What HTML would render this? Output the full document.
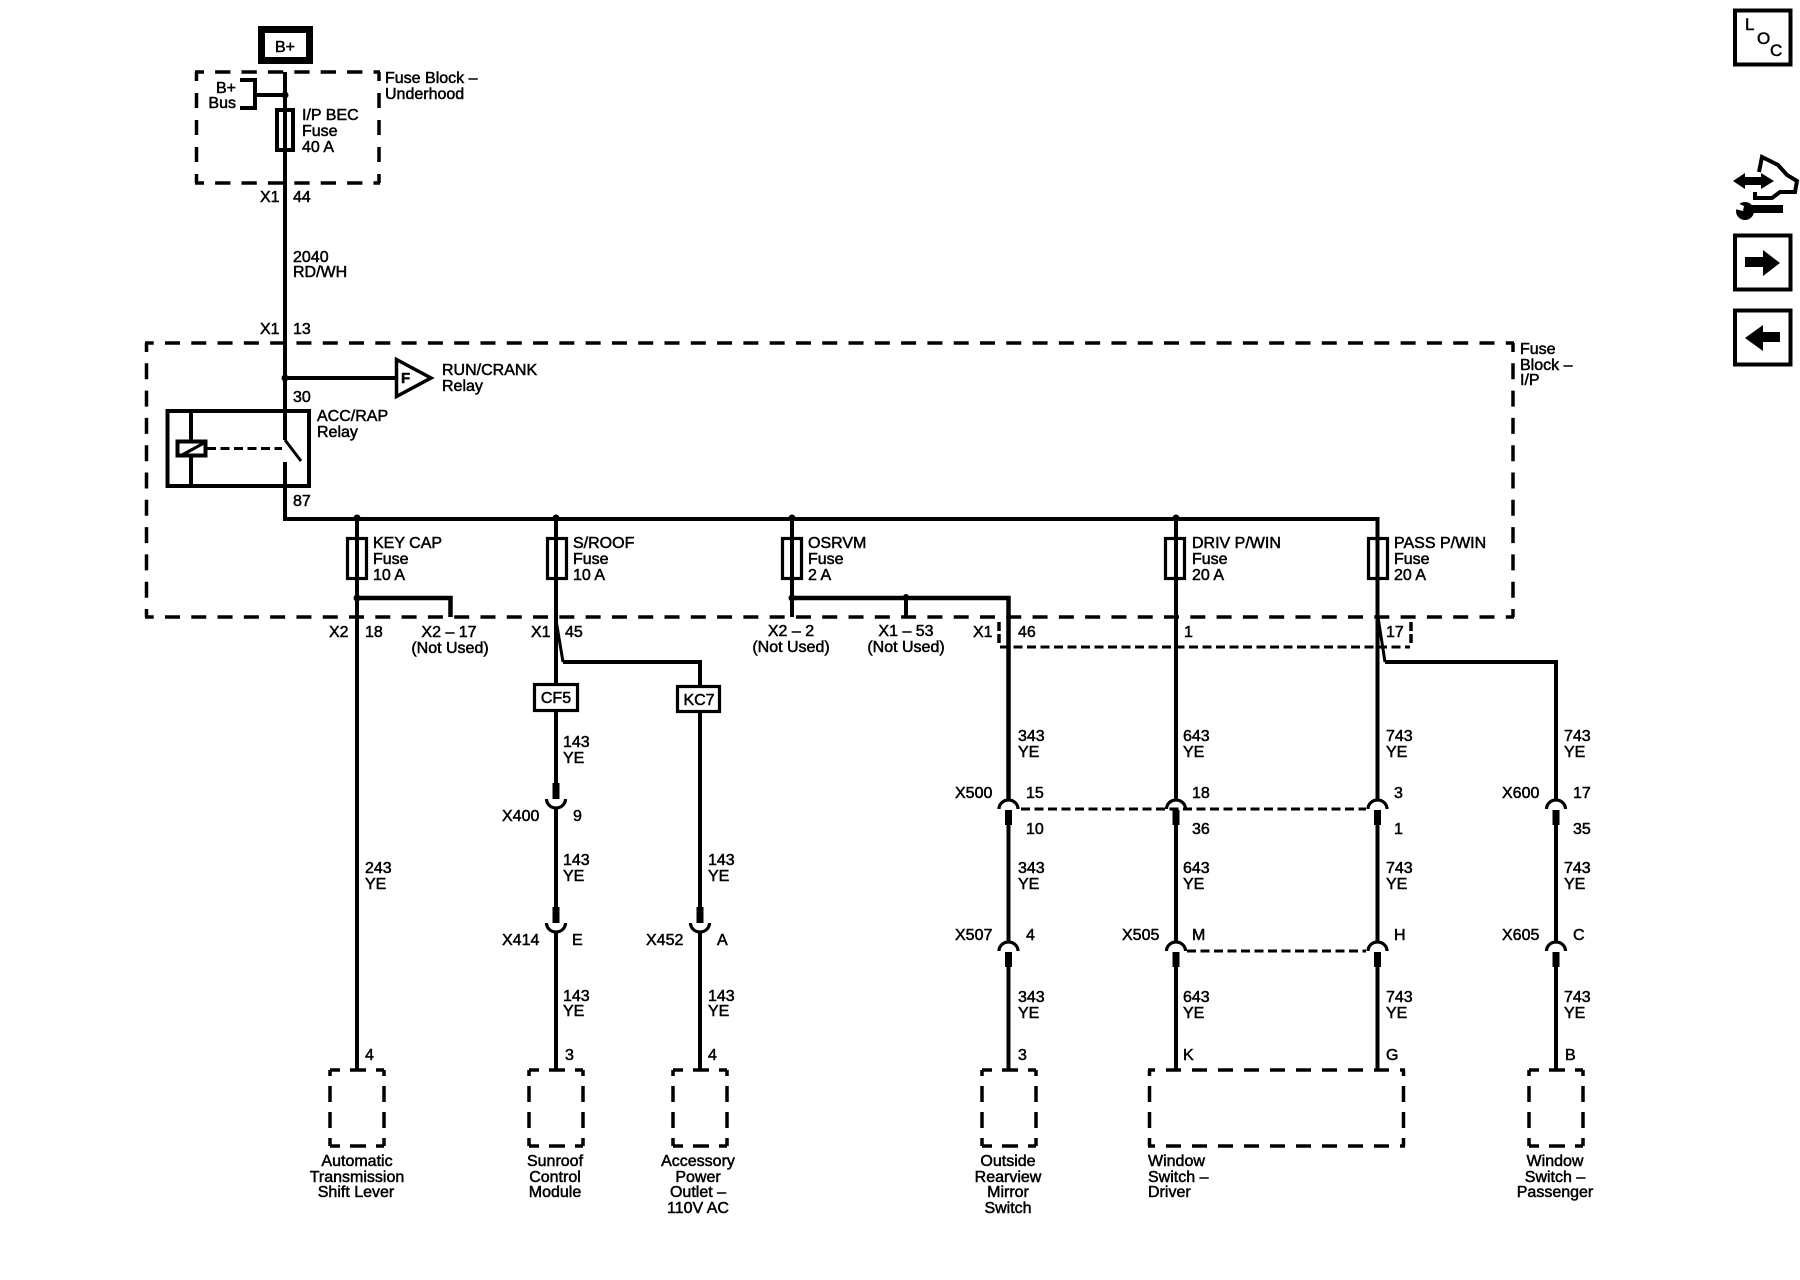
<!DOCTYPE html>
<html><head><meta charset="utf-8"><title>Wiring Schematic</title>
<style>
html,body{margin:0;padding:0;background:#fff}
svg{display:block}
text{font-family:"Liberation Sans",Arial,sans-serif;font-size:16px;fill:#000;stroke:#000;stroke-width:.5px}
.c{text-anchor:middle}
.r{text-anchor:end}
.w{fill:none;stroke:#000;stroke-width:4}
.t{fill:none;stroke:#000;stroke-width:3}
.k{fill:none;stroke:#000;stroke-width:3.5}
.s{fill:none;stroke:#000;stroke-width:3;stroke-dasharray:9 4.5}
</style></head><body>
<svg xmlns="http://www.w3.org/2000/svg" width="1800" height="1280" viewBox="0 0 1800 1280">
<defs>
<g id="up"><path d="M-9.5 10A9.5 9 0 0 1 9.5 10" fill="none" stroke="#000" stroke-width="3.2"/><rect x="-3.5" y="11" width="7" height="15"/></g>
<g id="dn"><path d="M-9.5 -10A9.5 9 0 0 0 9.5 -10" fill="none" stroke="#000" stroke-width="3.2"/><rect x="-3.5" y="-26" width="7" height="16"/></g>
<g id="fu"><rect x="-9.5" y="1.5" width="19" height="40" fill="none" stroke="#000" stroke-width="3.2"/></g>
<g id="sb">
<path d="M-27 0H27M-27 76H27" class="k" stroke-dasharray="16 10" stroke-dashoffset="6"/>
<path d="M-27 0V76M27 0V76" class="k" stroke-dasharray="16 10" stroke-dashoffset="10"/>
</g>
</defs>

<!-- B+ -->
<rect x="261.500" y="29.500" width="48" height="31" fill="#fff" stroke="#000" stroke-width="7"/>
<text x="285" y="52" class="c">B+</text>

<!-- Underhood block -->
<path d="M195 72H380M195 183H380" class="k" stroke-dasharray="15.3 11.1" stroke-dashoffset="6.300"/>
<path d="M196.500 72V183M379 72V183" class="k" stroke-dasharray="15 12" stroke-dashoffset="6"/>
<path d="M240 80H255V108H240" class="w"/>
<path d="M255 95H285" class="w"/>
<circle cx="285" cy="95" r="3.5"/>
<rect x="277" y="110" width="16" height="40" fill="none" stroke="#000" stroke-width="4"/>

<!-- Main I/P block -->
<path d="M145 343H1514M145 617H1514" class="k" stroke-dasharray="15 11.29" stroke-dashoffset="6.300"/>
<path d="M146.500 343V617M1513 343V617" class="k" stroke-dasharray="16 11.3" stroke-dashoffset="7"/>

<!-- X1 dashed -->
<path d="M999 622V643M1411 622V643" class="k" stroke-dasharray="9 3"/>
<path d="M1000 647H1410" class="s"/>

<!-- wires -->
<path d="M285 72V440" class="w"/>
<path d="M285 440L301 461" class="t"/>
<path d="M285 462V519H1377.500V799" class="w"/>
<path d="M285 378H396" class="w"/>
<circle cx="285" cy="378" r="3.500"/>
<path d="M396.500 359.500V396.500L431 378Z" fill="none" stroke="#000" stroke-width="3.500"/>

<!-- Relay -->
<rect x="167.500" y="411" width="141.500" height="75" fill="none" stroke="#000" stroke-width="4"/>
<path d="M191 411V487" class="w"/>
<rect x="177.500" y="441.500" width="28" height="14" fill="#fff" stroke="#000" stroke-width="4"/>
<path d="M182 455L204 443" class="t" stroke-width="2.500"/>
<path d="M207 448.500H282" class="t" stroke-dasharray="9 4.500" stroke-width="3.500"/>

<!-- Branch wires -->
<path d="M357 519V1070" class="w"/>
<path d="M357 598H450.500V617" class="w" style="stroke-width:4.500"/>
<circle cx="357" cy="598" r="3.500"/>
<path d="M556 519V784M556 808V908M556 932V1070" class="w"/>
<path d="M556 620L563 662" class="t"/>
<path d="M563 662H700V908M700 932V1070" class="w"/>
<path d="M792 519V617" class="w"/>
<path d="M792 598H1008.500V799" class="w" style="stroke-width:4.500"/>
<path d="M906 598V617" class="w"/>
<circle cx="792" cy="598" r="3.500"/><circle cx="906" cy="597" r="3"/>
<path d="M1008.500 825V942M1008.500 967V1070" class="w"/>
<path d="M1176 519V799M1176 825V942M1176 967V1070" class="w"/>
<path d="M1377.500 825V942M1377.500 967V1070" class="w"/>
<path d="M1378 617L1385 662" class="t"/>
<path d="M1385 662H1556V799M1556 825V942M1556 967V1070" class="w"/>
<circle cx="357" cy="518" r="3.500"/><circle cx="556" cy="518" r="3.500"/><circle cx="792" cy="518" r="3.500"/><circle cx="1176" cy="518" r="3.500"/>

<!-- fuses -->
<use href="#fu" x="357" y="537"/><use href="#fu" x="557" y="537"/><use href="#fu" x="792" y="537"/><use href="#fu" x="1175" y="537"/><use href="#fu" x="1378" y="537"/>

<!-- CF5/KC7 -->
<rect x="534.500" y="684.500" width="43" height="26" fill="#fff" stroke="#000" stroke-width="3.200"/>
<text x="556" y="703" class="c">CF5</text>
<rect x="677.500" y="686.500" width="42" height="25" fill="#fff" stroke="#000" stroke-width="3.200"/>
<text x="699" y="705" class="c">KC7</text>

<!-- connectors -->
<use href="#dn" x="556" y="809"/><use href="#dn" x="556" y="933"/><use href="#dn" x="700" y="933"/>
<use href="#up" x="1008.500" y="799"/><use href="#up" x="1176" y="799"/><use href="#up" x="1377.500" y="799"/><use href="#up" x="1556" y="799"/>
<use href="#up" x="1008.500" y="941"/><use href="#up" x="1176" y="941"/><use href="#up" x="1377.500" y="941"/><use href="#up" x="1556" y="941"/>
<path d="M1021 809H1366" class="s"/>
<path d="M1187 951H1366" class="s"/>

<!-- bottom boxes -->
<use href="#sb" x="357" y="1070"/><use href="#sb" x="556" y="1070"/><use href="#sb" x="700" y="1070"/><use href="#sb" x="1009" y="1070"/><use href="#sb" x="1556" y="1070"/>
<path d="M1148 1070H1405M1148 1146H1405" class="k" stroke-dasharray="15 11" stroke-dashoffset="8"/>
<path d="M1149.500 1070V1146M1403.500 1070V1146" class="k" stroke-dasharray="16 10" stroke-dashoffset="10"/>

<!-- labels top -->
<text x="236" y="93" class="r">B+</text><text x="236" y="108" class="r">Bus</text>
<text x="302" y="120">I/P BEC</text><text x="302" y="136">Fuse</text><text x="302" y="152">40 A</text>
<text x="385" y="83">Fuse Block –</text><text x="385" y="99">Underhood</text>
<text x="260" y="202">X1</text><text x="293" y="202">44</text>
<text x="293" y="262">2040</text><text x="293" y="277">RD/WH</text>
<text x="260" y="334">X1</text><text x="293" y="334">13</text>
<text x="401" y="383" font-weight="bold" style="font-size:15px">F</text>
<text x="442" y="375">RUN/CRANK</text><text x="442" y="391">Relay</text>
<text x="293" y="402">30</text>
<text x="317" y="421">ACC/RAP</text><text x="317" y="437">Relay</text>
<text x="293" y="506">87</text>
<text x="1520" y="354">Fuse</text><text x="1520" y="370">Block –</text><text x="1520" y="385">I/P</text>

<!-- fuses labels -->
<text x="373" y="548">KEY CAP</text><text x="373" y="564">Fuse</text><text x="373" y="580">10 A</text>
<text x="573" y="548">S/ROOF</text><text x="573" y="564">Fuse</text><text x="573" y="580">10 A</text>
<text x="808" y="548">OSRVM</text><text x="808" y="564">Fuse</text><text x="808" y="580">2 A</text>
<text x="1192" y="548">DRIV P/WIN</text><text x="1192" y="564">Fuse</text><text x="1192" y="580">20 A</text>
<text x="1394" y="548">PASS P/WIN</text><text x="1394" y="564">Fuse</text><text x="1394" y="580">20 A</text>

<!-- X row -->
<text x="329" y="637">X2</text><text x="365" y="637">18</text>
<text x="449" y="637" class="c">X2 – 17</text><text x="450" y="653" class="c">(Not Used)</text>
<text x="531" y="637">X1</text><text x="565" y="637">45</text>
<text x="791" y="636" class="c">X2 – 2</text><text x="791" y="652" class="c">(Not Used)</text>
<text x="906" y="636" class="c">X1 – 53</text><text x="906" y="652" class="c">(Not Used)</text>
<text x="973" y="637">X1</text><text x="1018" y="637">46</text>
<text x="1184" y="637">1</text><text x="1386" y="637">17</text>

<!-- 243 -->
<text x="365" y="873">243</text><text x="365" y="889">YE</text>
<text x="365" y="1060">4</text>

<!-- 143 left -->
<text x="563" y="747">143</text><text x="563" y="763">YE</text>
<text x="502" y="821">X400</text><text x="573" y="821">9</text>
<text x="563" y="865">143</text><text x="563" y="881">YE</text>
<text x="502" y="945">X414</text><text x="572" y="945">E</text>
<text x="563" y="1001">143</text><text x="563" y="1016">YE</text>
<text x="565" y="1060">3</text>

<!-- 143 right -->
<text x="708" y="865">143</text><text x="708" y="881">YE</text>
<text x="646" y="945">X452</text><text x="717" y="945">A</text>
<text x="708" y="1001">143</text><text x="708" y="1016">YE</text>
<text x="708" y="1060">4</text>

<!-- 343 -->
<text x="1018" y="741">343</text><text x="1018" y="757">YE</text>
<text x="955" y="798">X500</text><text x="1026" y="798">15</text><text x="1026" y="834">10</text>
<text x="1018" y="873">343</text><text x="1018" y="889">YE</text>
<text x="955" y="940">X507</text><text x="1026" y="940">4</text>
<text x="1018" y="1002">343</text><text x="1018" y="1018">YE</text>
<text x="1018" y="1060">3</text>

<!-- 643 -->
<text x="1183" y="741">643</text><text x="1183" y="757">YE</text>
<text x="1192" y="798">18</text><text x="1192" y="834">36</text>
<text x="1183" y="873">643</text><text x="1183" y="889">YE</text>
<text x="1122" y="940">X505</text><text x="1192" y="940">M</text>
<text x="1183" y="1002">643</text><text x="1183" y="1018">YE</text>
<text x="1183" y="1060">K</text>

<!-- 743 -->
<text x="1386" y="741">743</text><text x="1386" y="757">YE</text>
<text x="1394" y="798">3</text><text x="1394" y="834">1</text>
<text x="1386" y="873">743</text><text x="1386" y="889">YE</text>
<text x="1394" y="940">H</text>
<text x="1386" y="1002">743</text><text x="1386" y="1018">YE</text>
<text x="1386" y="1060">G</text>

<!-- 743 passenger -->
<text x="1564" y="741">743</text><text x="1564" y="757">YE</text>
<text x="1502" y="798">X600</text><text x="1573" y="798">17</text><text x="1573" y="834">35</text>
<text x="1564" y="873">743</text><text x="1564" y="889">YE</text>
<text x="1502" y="940">X605</text><text x="1573" y="940">C</text>
<text x="1564" y="1002">743</text><text x="1564" y="1018">YE</text>
<text x="1565" y="1060">B</text>

<!-- bottom labels -->
<text x="357" y="1166" class="c">Automatic</text><text x="357" y="1182" class="c">Transmission</text><text x="356" y="1197" class="c">Shift Lever</text>
<text x="555" y="1166" class="c">Sunroof</text><text x="555" y="1182" class="c">Control</text><text x="555" y="1197" class="c">Module</text>
<text x="698" y="1166" class="c">Accessory</text><text x="698" y="1182" class="c">Power</text><text x="698" y="1197" class="c">Outlet –</text><text x="698" y="1213" class="c">110V AC</text>
<text x="1008" y="1166" class="c">Outside</text><text x="1008" y="1182" class="c">Rearview</text><text x="1008" y="1197" class="c">Mirror</text><text x="1008" y="1213" class="c">Switch</text>
<text x="1148" y="1166">Window</text><text x="1148" y="1182">Switch –</text><text x="1148" y="1197">Driver</text>
<text x="1555" y="1166" class="c">Window</text><text x="1555" y="1182" class="c">Switch –</text><text x="1555" y="1197" class="c">Passenger</text>

<!-- right icons -->
<rect x="1735" y="10.500" width="55.500" height="54" fill="none" stroke="#000" stroke-width="4"/>
<text x="1745" y="30" style="font-size:17px">L</text><text x="1757" y="44" style="font-size:17px">O</text><text x="1770" y="56" style="font-size:17px">C</text>

<path d="M1733 181L1745 173V177H1761V173L1774 181L1761 189V185H1745V189Z"/>
<path d="M1759 172L1762 157L1778 165L1787 175L1797 181L1795 192L1780 192L1772 198H1755V192" fill="none" stroke="#000" stroke-width="4"/>
<path d="M1748 205H1783V213H1748Z"/>
<circle cx="1745" cy="211" r="9"/>
<path d="M1735 202L1744 206L1743 211L1735 209Z" fill="#fff"/>

<rect x="1735" y="235.500" width="55.500" height="54" fill="none" stroke="#000" stroke-width="4"/>
<path d="M1745 257H1763V250L1780 263L1763 276V267H1745Z"/>
<rect x="1735" y="310.500" width="55.500" height="54" fill="none" stroke="#000" stroke-width="4"/>
<path d="M1780 332H1763V325L1745 338L1763 351V342H1780Z"/>
</svg>
</body></html>
